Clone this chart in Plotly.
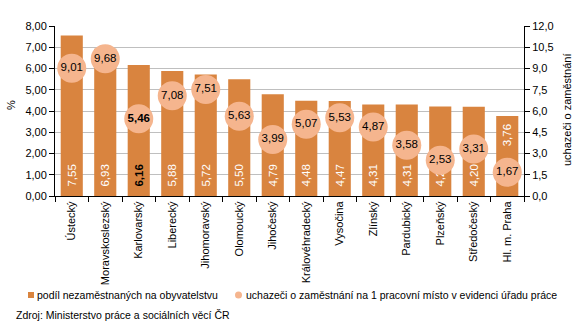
import plotly.graph_objects as go

regions = ["Ústecký", "Moravskoslezský", "Karlovarský", "Liberecký", "Jihomoravský",
           "Olomoucký", "Jihočeský", "Královéhradecký", "Vysočina", "Zlínský",
           "Pardubický", "Plzeňský", "Středočeský", "Hl. m. Praha"]
share_unemployed = [7.55, 6.93, 6.16, 5.88, 5.72, 5.50, 4.79, 4.48, 4.47, 4.31, 4.31, 4.21, 4.20, 3.76]
applicants_per_job = [9.01, 9.68, 5.46, 7.08, 7.51, 5.63, 3.99, 5.07, 5.53, 4.87, 3.58, 2.53, 3.31, 1.67]
left_ticks = [0, 1, 2, 3, 4, 5, 6, 7, 8]
right_ticks = [0, 1.5, 3, 4.5, 6, 7.5, 9, 10.5, 12]
highlight = "Karlovarský"
top_label_region = "Hl. m. Praha"

BAR = "#D9843F"
BUB = "#F5B58E"
FONT = "Liberation Sans, Arial, sans-serif"
FS = 11.5      # data labels
FA = 11        # axis labels
FL = 10.5      # legend / source
PAD = "\u00a0\u00a0"

def fmt(v, d):
    return f"{v:.{d}f}".replace(".", ",")

bar_text = []
bar_colors = []
for r, v in zip(regions, share_unemployed):
    if r == top_label_region:
        bar_text.append("")
    elif r == highlight:
        bar_text.append(PAD + "<b>" + fmt(v, 2) + "</b>")
    else:
        bar_text.append(PAD + fmt(v, 2))
    bar_colors.append("black" if r == highlight else "white")

bub_text = [("<b>" + fmt(v, 2) + "</b>") if r == highlight else fmt(v, 2)
            for r, v in zip(regions, applicants_per_job)]

fig = go.Figure()
fig.add_trace(go.Bar(
    x=regions, y=share_unemployed, marker=dict(color=BAR, line=dict(width=0)),
    text=bar_text, textposition="inside", insidetextanchor="start", textangle=-90,
    textfont=dict(color=bar_colors, size=FS, family=FONT),
    cliponaxis=False, showlegend=False, hoverinfo="skip"))
fig.add_trace(go.Scatter(
    x=regions, y=applicants_per_job, yaxis="y2", mode="markers+text",
    marker=dict(color=BUB, size=29, line=dict(width=0)),
    text=bub_text, textposition="middle center",
    textfont=dict(color="black", size=FS, family=FONT),
    showlegend=False, hoverinfo="skip", cliponaxis=False))

i = regions.index(top_label_region)
annotations = [dict(x=regions[i], y=share_unemployed[i], xref="x", yref="y",
                    text=fmt(share_unemployed[i], 2), textangle=-90, showarrow=False,
                    yanchor="top", yshift=-6,
                    font=dict(color="white", size=FS, family=FONT))]

L, R, T, B = 55, 524, 26, 196
def px(x):
    return (x - L) / (R - L)
def py(y):
    return (B - y) / (B - T)

annotations += [
    dict(x=px(11), y=py(105), xref="paper", yref="paper", text="%", textangle=-90,
         showarrow=False, xanchor="center", yanchor="middle",
         font=dict(size=FA, family=FONT, color="black")),
    dict(x=px(567), y=py(110), xref="paper", yref="paper", text="uchazeči o zaměstnání",
         textangle=-90, showarrow=False, xanchor="center", yanchor="middle",
         font=dict(size=FA, family=FONT, color="black")),
    dict(x=px(35), y=py(295), xref="paper", yref="paper", xanchor="left", yanchor="middle",
         text="podíl nezaměstnaných na obyvatelstvu", showarrow=False,
         font=dict(size=FL, family=FONT, color="black")),
    dict(x=px(244), y=py(295), xref="paper", yref="paper", xanchor="left", yanchor="middle",
         text="uchazeči o zaměstnání na 1 pracovní místo v evidenci úřadu práce", showarrow=False,
         font=dict(size=FL, family=FONT, color="black")),
    dict(x=px(14), y=py(315), xref="paper", yref="paper", xanchor="left", yanchor="middle",
         text="Zdroj: Ministerstvo práce a sociálních věcí ČR", showarrow=False,
         font=dict(size=FL, family=FONT, color="black")),
]
shapes = [
    dict(type="rect", xref="paper", yref="paper", x0=px(28), x1=px(34), y0=py(298), y1=py(292),
         fillcolor=BAR, line=dict(width=0)),
    dict(type="circle", xref="paper", yref="paper", x0=px(235), x1=px(242), y0=py(298.5), y1=py(291.5),
         fillcolor=BUB, line=dict(width=0)),
]

fig.update_layout(
    width=578, height=326, margin=dict(l=L, r=578 - R, t=T, b=326 - B),
    paper_bgcolor="white", plot_bgcolor="white",
    separators=", ", bargap=0.34,
    font=dict(family=FONT, size=FA, color="black"),
    xaxis=dict(range=[-0.5, len(regions) - 0.5], tickangle=-90, ticks="outside",
               tickson="boundaries", ticklen=5, tickcolor="black", showline=True,
               linecolor="black", linewidth=1, showgrid=False,
               tickfont=dict(size=FA, family=FONT, color="black")),
    yaxis=dict(range=[0, 8], tickvals=left_ticks, tickformat=".2f", ticks="outside",
               ticklen=5, tickcolor="black", showline=True, linecolor="black", linewidth=1,
               showgrid=True, gridcolor="#BFBFBF", gridwidth=1, zeroline=False,
               tickfont=dict(size=FA, family=FONT, color="black")),
    yaxis2=dict(range=[0, 12], tickvals=right_ticks, tickformat=".1f", overlaying="y",
                side="right", ticks="outside", ticklen=5, tickcolor="black", showline=True,
                linecolor="black", linewidth=1, showgrid=False, zeroline=False,
                tickfont=dict(size=FA, family=FONT, color="black")),
    annotations=annotations, shapes=shapes,
)

fig.write_html("out.html")
